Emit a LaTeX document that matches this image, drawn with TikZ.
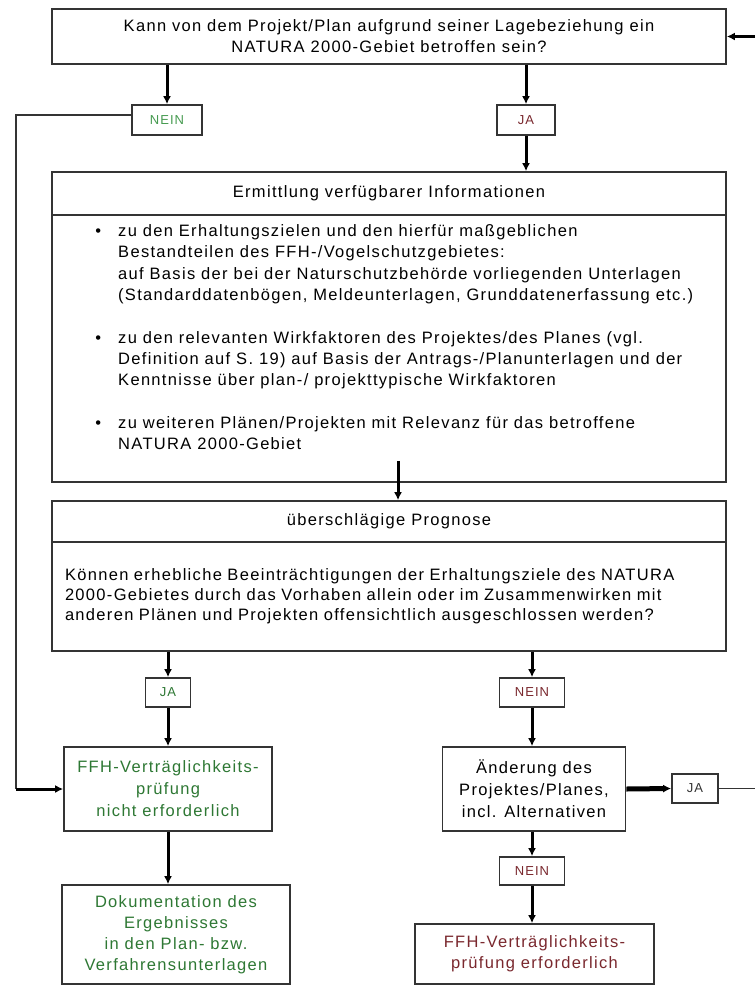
\documentclass[tikz,border=0pt]{standalone}
\usepackage{fontspec}
\setmainfont[LetterSpace=8]{Liberation Sans}
\usepackage{xcolor}
\usetikzlibrary{arrows.meta}

\definecolor{okgreen}{RGB}{46,120,52}
\definecolor{lightgreen}{RGB}{70,155,80}
\definecolor{nored}{RGB}{122,40,46}
\definecolor{edgegray}{RGB}{52,52,52}

\begin{document}
\begin{tikzpicture}[x=1pt,y=-1pt,
	box/.style={draw=edgegray, line width=1.7pt, inner sep=0pt, align=center, font=\fontsize{16.5}{21}\selectfont},
	tag/.style={draw=edgegray, line width=1.7pt, inner sep=0pt, font=\fontsize{13}{15}\selectfont},
	arr/.style={line width=3pt, -{Latex[length=8pt,width=8pt]}},
	link/.style={draw=edgegray, line width=1.6pt}]
	\useasboundingbox[fill=white] (0,0) rectangle (755,985);
	
	\node[box, minimum width=674pt, minimum height=55pt] (q1) at (389,36.5) {Kann von dem Projekt/Plan aufgrund seiner Lagebeziehung ein\\NATURA 2000-Gebiet betroffen sein?};
	\node[tag, minimum width=70pt, minimum height=30pt, text=lightgreen] (nein1) at (167,120) {NEIN};
	\node[tag, minimum width=58pt, minimum height=30pt, text=nored] (ja1) at (526,120) {JA};
	
	\node[box, minimum width=674pt, minimum height=43pt] (infohead) at (389,193.5) {Ermittlung verfügbarer Informationen};
	\node[box, minimum width=674pt, minimum height=267pt] (info) at (389,348.5) {};
	\node[anchor=north west, inner sep=0pt, align=left, font=\fontsize{16.5}{21.3}\selectfont] (infotxt) at (118,224.5) {%
		\llap{•\hspace{17pt}}zu den Erhaltungszielen und den hierfür maßgeblichen\\
		Bestandteilen des FFH-/Vogelschutzgebietes:\\
		auf Basis der bei der Naturschutzbehörde vorliegenden Unterlagen\\
		(Standarddatenbögen, Meldeunterlagen, Grunddatenerfassung etc.)\\[21.3pt]
		\llap{•\hspace{17pt}}zu den relevanten Wirkfaktoren des Projektes/des Planes (vgl.\\
		Definition auf S. 19) auf Basis der Antrags-/Planunterlagen und der\\
		Kenntnisse über plan-/ projekttypische Wirkfaktoren\\[21.3pt]
		\llap{•\hspace{17pt}}zu weiteren Plänen/Projekten mit Relevanz für das betroffene\\
		NATURA 2000-Gebiet};
	
	\node[box, minimum width=674pt, minimum height=41pt] (prohead) at (389,521.5) {überschlägige Prognose};
	\node[box, minimum width=674pt, minimum height=109pt, text width=648pt, align=left, font=\fontsize{16.5}{20}\selectfont] (prog) at (389,596.5) {Können erhebliche Beeinträchtigungen der Erhaltungsziele des NATURA\\2000-Gebietes durch das Vorhaben allein oder im Zusammenwirken mit\\anderen Plänen und Projekten offensichtlich ausgeschlossen werden?};
	
	\node[tag, minimum width=45pt, minimum height=29pt, text=okgreen] (ja2) at (168,692.5) {JA};
	\node[tag, minimum width=65pt, minimum height=29pt, text=nored] (nein2) at (532,692.5) {NEIN};
	\node[box, minimum width=208pt, minimum height=84pt, text=okgreen, font=\fontsize{16.5}{22}\selectfont] (ffh) at (168,789) {FFH-Verträglichkeits-\\prüfung\\nicht erforderlich};
	\node[box, minimum width=183pt, minimum height=84pt, font=\fontsize{16.5}{22}\selectfont] (aend) at (534,789) {Änderung des\\Projektes/Planes,\\incl. Alternativen};
	\node[tag, minimum width=46pt, minimum height=29pt, text=edgegray] (ja3) at (695,788.5) {JA};
	\node[tag, minimum width=65pt, minimum height=28pt, text=nored] (nein3) at (532,871) {NEIN};
	\node[box, minimum width=228pt, minimum height=99pt, text=okgreen] (dok) at (176,934.5) {Dokumentation des\\Ergebnisses\\in den Plan- bzw.\\Verfahrensunterlagen};
	\node[box, minimum width=239pt, minimum height=60pt, text=nored] (ffh2) at (534.5,954) {FFH-Verträglichkeits-\\prüfung erforderlich};
	
	\coordinate (lft) at (16,789);
	\coordinate (rtop) at (755,36.5);
	\coordinate (redge) at (755,788.5);
	
	\draw[arr] (q1.south -| nein1) -- (nein1.north);
	\draw[arr] (q1.south -| ja1) -- (ja1.north);
	\draw[arr] (ja1.south) -- (ja1.south |- infohead.north);
	\draw[link] ([yshift=5pt]nein1.west) -| (lft);
	\draw[arr] (lft) -- (ffh.west);
	\draw[arr] (rtop) -- (q1.east);
	\draw[arr] ([xshift=9pt,yshift=22pt]info.south) -- ([xshift=9pt]prohead.north);
	
	\draw[arr] (prog.south -| ja2) -- (ja2.north);
	\draw[arr] (ja2.south) -- (ja2.south |- ffh.north);
	\draw[arr] (ffh.south) -- (ffh.south |- dok.north);
	\draw[arr] (prog.south -| nein2) -- (nein2.north);
	\draw[arr] (nein2.south) -- (nein2.south |- aend.north);
	\draw[arr, line width=5pt] (aend.east) -- (ja3.west);
	\draw[link] (ja3.east) -- (redge);
	\draw[arr] (aend.south -| nein3) -- (nein3.north);
	\draw[arr] (nein3.south) -- (nein3.south |- ffh2.north);
\end{tikzpicture}
\end{document}
